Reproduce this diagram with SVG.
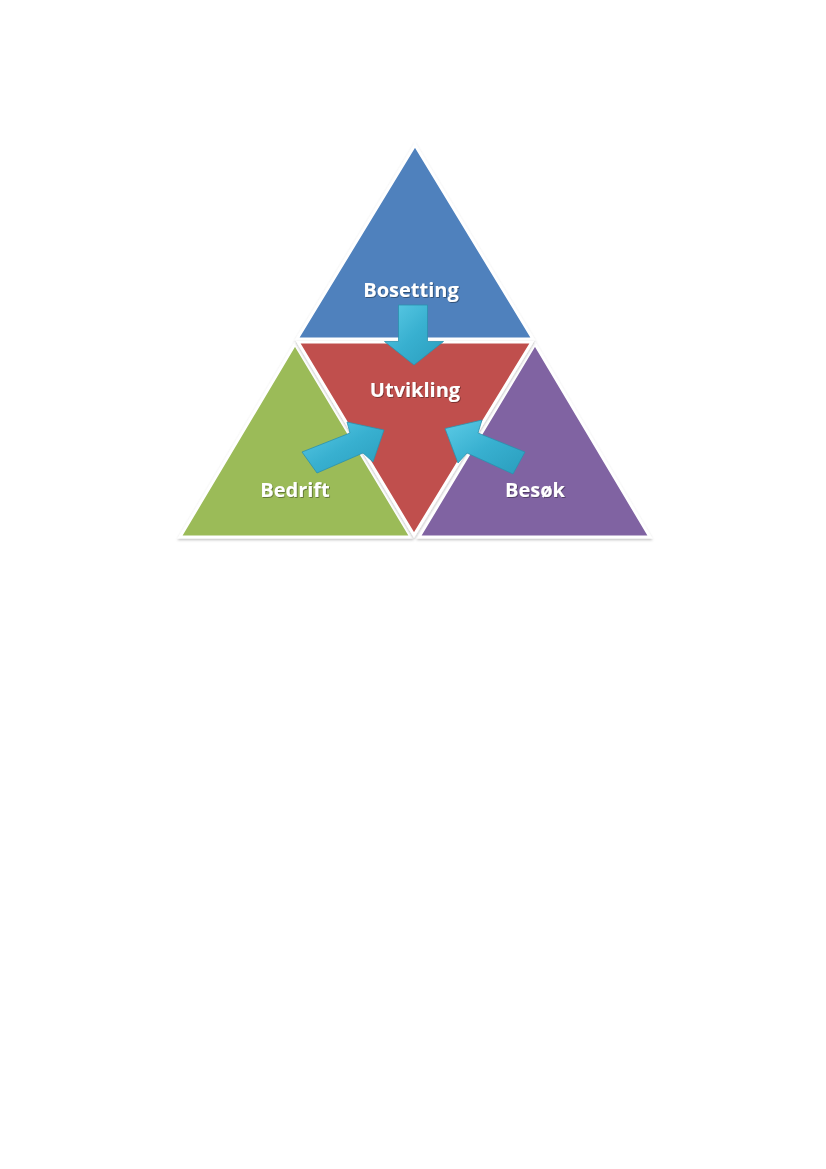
<svg xmlns="http://www.w3.org/2000/svg" width="826" height="1169" viewBox="0 0 826 1169">
  <style>
    .tri { stroke: #FFFFFF; stroke-width: 3; stroke-linejoin: miter; filter: url(#shadow); }
    .lbl { font-family: "Open Sans", "Liberation Sans", sans-serif; font-weight: bold; font-size: 20px; fill: #FFFFFF; text-anchor: middle; filter: url(#tshadow); }
    .arrow { fill: url(#arrowGrad); stroke: #2B90AD; stroke-width: 0.8; stroke-linejoin: round; }
  </style>
  <defs>
    <filter id="shadow" x="-10%" y="-10%" width="120%" height="125%">
      <feDropShadow dx="0" dy="1.5" stdDeviation="1.2" flood-color="#000000" flood-opacity="0.25"/>
    </filter>
    <filter id="tshadow" x="-10%" y="-20%" width="120%" height="150%">
      <feDropShadow dx="0.8" dy="0.8" stdDeviation="0.6" flood-color="#000000" flood-opacity="0.45"/>
    </filter>
    <linearGradient id="arrowGrad" x1="0" y1="0" x2="1" y2="1">
      <stop offset="0" stop-color="#5CCBE6"/>
      <stop offset="0.5" stop-color="#38B0D0"/>
      <stop offset="1" stop-color="#2A9DBD"/>
    </linearGradient>
  </defs>
  <rect width="826" height="1169" fill="#FFFFFF"/>

  <g id="node-bosetting">
    <polygon class="tri" points="415,145 297,339 533,339" fill="#4F81BD"/>
    <text class="lbl" x="411" y="297">Bosetting</text>
  </g>

  <g id="node-bedrift">
    <polygon class="tri" points="295,344 180,537 411,537" fill="#9BBB59"/>
    <text class="lbl" x="295" y="497">Bedrift</text>
  </g>

  <g id="node-besok">
    <polygon class="tri" points="535,344 419,537 650,537" fill="#8064A2"/>
    <text class="lbl" x="535" y="497">Besøk</text>
  </g>

  <g id="node-utvikling">
    <polygon class="tri" points="298,342 532,342 414,535" fill="#C0504D"/>
    <text class="lbl" x="415" y="397">Utvikling</text>
  </g>

  <g id="connectors">
    <polygon class="arrow" points="398.5,305 427.5,305 427.5,341.5 443.5,341.5 414,365 384.5,341.5 398.5,341.5"/>
    <polygon class="arrow" points="302,452 350,433 347,422 384,430 373,462 363,453 317,473"/>
    <polygon class="arrow" points="525,452 478,433 482,420 445,428.5 458,463 467,453 513,474"/>
  </g>
</svg>
